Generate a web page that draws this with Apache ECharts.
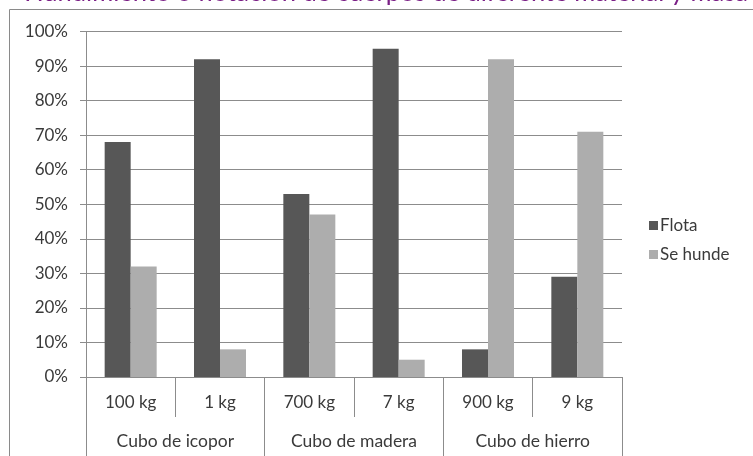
<!DOCTYPE html>
<html>
<head>
<meta charset="utf-8">
<script src="https://cdn.jsdelivr.net/npm/echarts@6/dist/echarts.min.js"></script>
<style>
  html, body { margin: 0; padding: 0; background: #ffffff; }
  #chart { width: 753px; height: 456px; }
</style>
</head>
<body>
<div id="chart"></div>
<script>
// Masses tested for each cube material
const masses = ['100 kg', '1 kg', '700 kg', '7 kg', '900 kg', '9 kg'];
// Material groups (each covers two masses)
const materials = ['Cubo de icopor', 'Cubo de madera', 'Cubo de hierro'];
// Percentage of trials where the cube floats / sinks
const flota = [68, 92, 53, 95, 8, 29];
const seHunde = [32, 8, 47, 5, 92, 71];
const seriesNames = ['Flota', 'Se hunde'];
const titleText = 'Hundimiento o flotación de cuerpos de diferente material y masa';

const FONT = 'Lato, "Open Sans", sans-serif';
const TEXT = '#3a3a3a';
const LINE = '#8c8c8c';

const chart = echarts.init(document.getElementById('chart'), null, { renderer: 'canvas' });

chart.setOption({
  animation: false,
  backgroundColor: '#ffffff',
  textStyle: { fontFamily: FONT },
  graphic: [
    {
      type: 'rect',
      shape: { x: 9.5, y: 9.5, width: 800, height: 500 },
      style: { fill: 'none', stroke: '#8a8a8a', lineWidth: 1 },
      silent: true
    },
    {
      type: 'text',
      x: 386, y: 6,
      style: {
        text: titleText,
        fill: '#7a1f86',
        font: '25.5px ' + FONT,
        textAlign: 'center',
        textVerticalAlign: 'bottom'
      },
      silent: true
    }
  ],
  legend: {
    orient: 'vertical',
    left: 644,
    top: 212,
    itemWidth: 9,
    itemHeight: 9,
    itemGap: 12,
    icon: 'rect',
    data: seriesNames,
    textStyle: { fontSize: 17, color: TEXT, fontFamily: FONT, padding: [0, 0, 0, -3] }
  },
  grid: { left: 86, right: 131, top: 31.5, bottom: 79, containLabel: false },
  xAxis: [
    {
      type: 'category',
      data: masses,
      boundaryGap: true,
      axisLine: { lineStyle: { color: LINE } },
      axisTick: { show: true, interval: 0, length: 40, lineStyle: { color: LINE } },
      axisLabel: { interval: 0, margin: 17, fontSize: 17, color: TEXT, fontFamily: FONT }
    },
    {
      type: 'category',
      data: materials,
      position: 'bottom',
      boundaryGap: true,
      axisLine: { show: false },
      axisTick: { show: true, interval: 0, length: 80, lineStyle: { color: LINE } },
      axisLabel: { interval: 0, margin: 55, fontSize: 17.5, color: TEXT, fontFamily: FONT }
    }
  ],
  yAxis: {
    type: 'value',
    min: 0,
    max: 100,
    interval: 10,
    axisLine: { show: true, lineStyle: { color: LINE } },
    axisTick: { show: true, length: 6, lineStyle: { color: LINE } },
    splitLine: { lineStyle: { color: LINE, width: 1 } },
    axisLabel: { formatter: '{value}%', fontSize: 17, color: TEXT, margin: 18, fontFamily: FONT }
  },
  series: [
    {
      name: seriesNames[0],
      type: 'bar',
      xAxisIndex: 0,
      data: flota,
      barWidth: 26,
      barGap: '0%',
      itemStyle: { color: '#575757' }
    },
    {
      name: seriesNames[1],
      type: 'bar',
      xAxisIndex: 0,
      data: seHunde,
      barWidth: 26,
      barGap: '0%',
      itemStyle: { color: '#adadad' }
    }
  ]
});
</script>
</body>
</html>
